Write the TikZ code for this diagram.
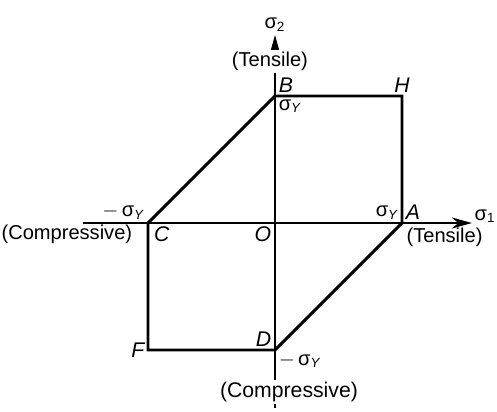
\documentclass[tikz,border=0pt]{standalone}
\usepackage{fontspec}
\setmainfont{Liberation Sans}
\usepackage{tikz}
\usetikzlibrary{arrows.meta}

\newcommand{\sY}{σ\textsubscript{\itshape Y}}

\tikzset{
    lbl/.style={font=\fontsize{9}{10}\selectfont, inner sep=1.5pt},
    pt/.style={lbl, font=\fontsize{9.5}{10}\selectfont\itshape},
    side/.style={lbl, fill=white, inner sep=1pt},
}

\begin{document}
\begin{tikzpicture}

\useasboundingbox (-4.331,-2.961) rectangle (3.496,3.512);

\coordinate (O) at (0,0);
\coordinate (A) at (2,0);
\coordinate (B) at (0,2);
\coordinate (H) at (2,2);
\coordinate (C) at (-2,0);
\coordinate (D) at (0,-2);
\coordinate (F) at (-2,-2);
\coordinate (xl) at (-3.02,0);
\coordinate (xr) at (3.10,0);
\coordinate (yb) at (0,-2.91);
\coordinate (yt) at (0,2.96);

% axes
\draw[line width=0.5pt, -{Stealth[length=9pt,width=5pt]}] (xl)--(xr) node[lbl, right, yshift=3pt, inner sep=1pt]{σ\textsubscript{1}};
\draw[line width=0.5pt, -{Stealth[length=9pt,width=5pt]}] (yb)--(yt) node[lbl, above]{σ\textsubscript{2}};

\node[side] (tenY) at (-0.08,2.54) {(Tensile)};
\node[side, font=\fontsize{9.5}{10}\selectfont] (comY) at (0.22,-2.66) {(Compressive)};
\node[lbl, anchor=east] (comX) at (-2.19,-0.18) {(Compressive)};
\node[lbl, anchor=west, inner sep=1pt] (tenX) at (2.03,-0.22) {(Tensile)};

% yield locus
\draw[line width=1.3pt, line join=miter] (C)--(B)--(H)--(A)--(D)--(F)--cycle;

\node[pt, above right] (lB) at (B) {B};
\node[pt, above] (lH) at (H) {H};
\node[pt, above right] (lA) at (A) {A};
\node[pt, below right, xshift=1pt] (lC) at (C) {C};
\node[pt, below left] (lO) at (O) {O};
\node[pt, above left] (lD) at (D) {D};
\node[pt, left] (lF) at (F) {F};

\node[lbl, below right] (yB) at (B) {\sY};
\node[lbl, above left] (yA) at (A) {\sY};
\node[lbl, above left] (yC) at (C) {$-$\,\sY};
\node[lbl, below right] (yD) at (D) {$-$\,\sY};

\end{tikzpicture}
\end{document}
